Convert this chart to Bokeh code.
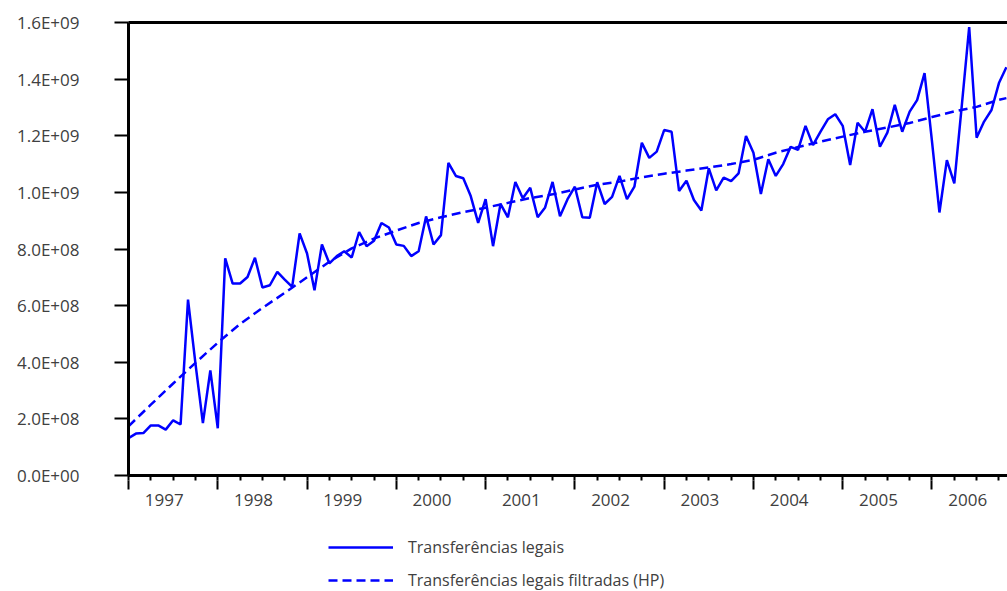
from bokeh.plotting import figure
from bokeh.layouts import column
from bokeh.models import Range1d, FixedTicker, LinearAxis, Legend, LegendItem
from bokeh.embed import file_html
from bokeh.resources import INLINE

# ---------------- data ----------------
years = [1997, 1998, 1999, 2000, 2001, 2002, 2003, 2004, 2005, 2006]

# monthly series, Jan 1997 onwards (R$ millions)
transferencias_legais = [
    132, 148, 150, 177, 177, 162, 195, 180, 621, 395, 185, 371,
    167, 767, 678, 678, 701, 769, 664, 672, 719, 692, 666, 855,
    784, 654, 816, 749, 775, 792, 770, 860, 810, 829, 892, 876,
    816, 811, 775, 792, 915, 816, 849, 1104, 1058, 1050, 987, 892,
    976, 810, 959, 912, 1037, 979, 1016, 912, 947, 1037, 916, 975,
    1020, 912, 910, 1036, 959, 984, 1058, 976, 1020, 1175, 1122, 1144,
    1220, 1214, 1005, 1041, 973, 936, 1085, 1007, 1052, 1040, 1067, 1199,
    1140, 994, 1117, 1058, 1100, 1161, 1150, 1235, 1167, 1214, 1258, 1276,
    1235, 1097, 1246, 1214, 1294, 1161, 1211, 1309, 1214, 1285, 1326, 1421,
    1180, 929, 1114, 1032, 1305, 1584, 1193, 1250, 1291, 1386, 1442,
]
month_index = list(range(len(transferencias_legais)))

# HP-filtered trend read at quarterly points (R$ millions)
trend_month = [0, 3, 6, 9, 12, 15, 18, 21, 24, 27, 30, 33, 36, 39, 42, 45, 48, 51,
               54, 57, 60, 63, 66, 69, 72, 75, 78, 81, 84, 87, 90, 93, 96, 99, 102,
               105, 108, 111, 114, 117, 118]
transferencias_hp = [174, 250, 325, 398, 469, 535, 592, 645, 700, 755, 802, 837,
                     865, 892, 912, 930, 946, 963, 980, 993, 1010, 1027, 1038, 1053,
                     1066, 1077, 1088, 1100, 1115, 1140, 1160, 1179, 1197, 1214, 1229,
                     1245, 1266, 1286, 1302, 1327, 1333]

y_ticks = [0, 200000000, 400000000, 600000000, 800000000, 1000000000,
           1200000000, 1400000000, 1600000000]

series_labels = ["Transferências legais", "Transferências legais filtradas (HP)"]

# ---------------- style ----------------
FONT = "Open Sans"
TXT = "#404040"
BLUE = "#0000FF"

ys_main = [v * 1e6 for v in transferencias_legais]
ys_hp = [v * 1e6 for v in transferencias_hp]

p = figure(width=1007, height=515, output_backend="svg", toolbar_location=None,
           x_range=Range1d(0, 118.15), y_range=Range1d(0, 1.6e9),
           x_axis_location=None, y_axis_location=None,
           min_border_left=128, min_border_right=0, min_border_top=22,
           min_border_bottom=40)
p.outline_line_color = None
p.grid.grid_line_color = None
p.background_fill_color = "white"
p.border_fill_color = "white"

# y axis
yaxis = LinearAxis(ticker=FixedTicker(ticks=y_ticks),
                   major_label_overrides={t: f"{t:.1E}" for t in y_ticks})
yaxis.axis_line_width = 3
yaxis.axis_line_color = "black"
yaxis.major_tick_out = 14
yaxis.major_tick_in = 0
yaxis.major_tick_line_width = 2
yaxis.minor_tick_out = 0
yaxis.minor_tick_in = 0
yaxis.major_label_standoff = 35
yaxis.major_label_text_font = FONT
yaxis.major_label_text_font_size = "17px"
yaxis.major_label_text_color = TXT
p.add_layout(yaxis, "left")

# top line
top = LinearAxis(ticker=FixedTicker(ticks=[], minor_ticks=[]))
top.axis_line_width = 3
top.major_tick_out = 0
top.major_tick_in = 0
top.minor_tick_out = 0
top.minor_tick_in = 0
top.major_label_standoff = 0
p.add_layout(top, "above")

# x axis line + quarter ticks (no labels)
year_starts = [12 * k for k in range(len(years))]
quarter_starts = [3 * k for k in range(4 * len(years))]
xt = LinearAxis(ticker=FixedTicker(ticks=[], minor_ticks=quarter_starts))
xt.axis_line_width = 3
xt.axis_line_color = "black"
xt.major_tick_out = 0
xt.major_tick_in = 0
xt.minor_tick_out = 5
xt.minor_tick_in = 0
xt.minor_tick_line_width = 2
xt.major_label_standoff = 0
p.add_layout(xt, "below")

# x axis: year labels + long year-boundary ticks
label_pos = [round(12 * k + 4.8, 1) for k in range(len(years))]
xl = LinearAxis(ticker=FixedTicker(ticks=label_pos, minor_ticks=year_starts),
                major_label_overrides={pos: str(y) for pos, y in zip(label_pos, years)})
xl.axis_line_color = None
xl.major_tick_out = 0
xl.major_tick_in = 0
xl.minor_tick_out = 9
xl.minor_tick_in = 0
xl.minor_tick_line_width = 2
xl.minor_tick_line_color = "black"
xl.major_label_standoff = 4
xl.major_label_text_font = FONT
xl.major_label_text_font_size = "17px"
xl.major_label_text_color = TXT
p.add_layout(xl, "below")

p.line(month_index, ys_main, line_color=BLUE, line_width=2.5)
p.line(trend_month, ys_hp, line_color=BLUE, line_width=2.5, line_dash="9 5")

# legend panel underneath (its y range keeps the series out of view; only the legend shows)
p2 = figure(width=1007, height=76, output_backend="svg", toolbar_location=None,
            x_range=Range1d(0, 1), y_range=Range1d(-2, -1),
            x_axis_location=None, y_axis_location=None,
            min_border_left=0, min_border_right=0, min_border_top=0,
            min_border_bottom=0)
p2.outline_line_color = None
p2.grid.grid_line_color = None
k1 = p2.line(month_index, ys_main, line_color=BLUE, line_width=2.5)
k2 = p2.line(trend_month, ys_hp, line_color=BLUE, line_width=2.5, line_dash="9 5")

legend = Legend(items=[LegendItem(label=series_labels[0], renderers=[k1]),
                       LegendItem(label=series_labels[1], renderers=[k2])],
                location=(200, 0))
legend.glyph_width = 65
legend.glyph_height = 16
legend.label_height = 16
legend.label_standoff = 15
legend.spacing = 11
legend.padding = 0
legend.margin = 0
legend.border_line_color = None
legend.background_fill_alpha = 0
legend.label_text_font = FONT
legend.label_text_font_size = "16px"
legend.label_text_color = TXT
p2.add_layout(legend)

open("out.html", "w").write(file_html(column(p, p2, spacing=0), INLINE))
